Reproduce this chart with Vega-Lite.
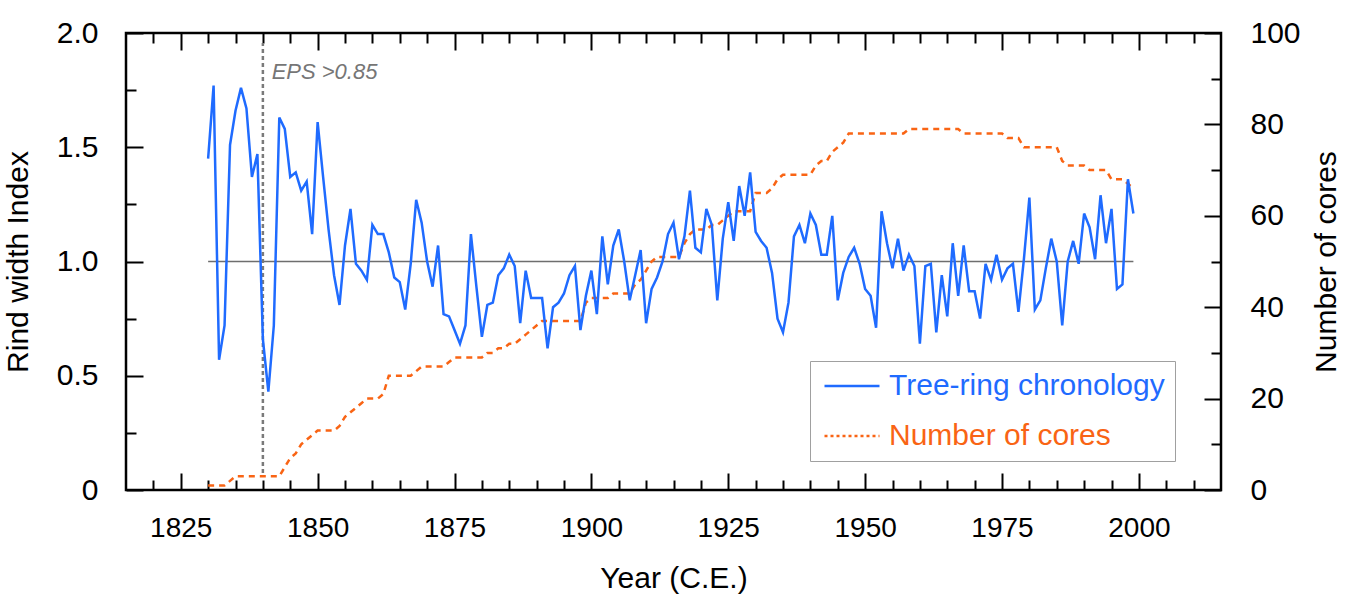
{
  "$schema": "https://vega.github.io/schema/vega-lite/v6.json",
  "width": 1095,
  "height": 457,
  "autosize": {"type": "none"},
  "padding": {"left": 126, "top": 33, "right": 128, "bottom": 109},
  "config": {
    "font": "Liberation Sans",
    "view": {"stroke": "black", "strokeWidth": 2.5},
    "axis": {
      "domain": false,
      "grid": false,
      "tickColor": "black",
      "tickWidth": 2,
      "labelFontSize": 30,
      "titleFontSize": 30,
      "labelColor": "black",
      "titleColor": "black",
      "titleFontWeight": "normal",
      "labelFlush": false,
      "labelOverlap": false
    }
  },
  "datasets": {
    "chron": [
      {"year": 1830, "index": 1.45}, {"year": 1831, "index": 1.77}, {"year": 1832, "index": 0.57}, {"year": 1833, "index": 0.72},
      {"year": 1834, "index": 1.51}, {"year": 1835, "index": 1.66}, {"year": 1836, "index": 1.76}, {"year": 1837, "index": 1.67},
      {"year": 1838, "index": 1.37}, {"year": 1839, "index": 1.47}, {"year": 1840, "index": 0.66}, {"year": 1841, "index": 0.43},
      {"year": 1842, "index": 0.72}, {"year": 1843, "index": 1.63}, {"year": 1844, "index": 1.58}, {"year": 1845, "index": 1.37},
      {"year": 1846, "index": 1.39}, {"year": 1847, "index": 1.31}, {"year": 1848, "index": 1.35}, {"year": 1849, "index": 1.12},
      {"year": 1850, "index": 1.61}, {"year": 1851, "index": 1.37}, {"year": 1852, "index": 1.14}, {"year": 1853, "index": 0.94},
      {"year": 1854, "index": 0.81}, {"year": 1855, "index": 1.07}, {"year": 1856, "index": 1.23}, {"year": 1857, "index": 0.99},
      {"year": 1858, "index": 0.96}, {"year": 1859, "index": 0.92}, {"year": 1860, "index": 1.16}, {"year": 1861, "index": 1.12},
      {"year": 1862, "index": 1.12}, {"year": 1863, "index": 1.04}, {"year": 1864, "index": 0.93}, {"year": 1865, "index": 0.91},
      {"year": 1866, "index": 0.79}, {"year": 1867, "index": 0.99}, {"year": 1868, "index": 1.27}, {"year": 1869, "index": 1.17},
      {"year": 1870, "index": 1.0}, {"year": 1871, "index": 0.89}, {"year": 1872, "index": 1.07}, {"year": 1873, "index": 0.77},
      {"year": 1874, "index": 0.76}, {"year": 1875, "index": 0.7}, {"year": 1876, "index": 0.64}, {"year": 1877, "index": 0.72},
      {"year": 1878, "index": 1.12}, {"year": 1879, "index": 0.89}, {"year": 1880, "index": 0.67}, {"year": 1881, "index": 0.81},
      {"year": 1882, "index": 0.82}, {"year": 1883, "index": 0.94}, {"year": 1884, "index": 0.97}, {"year": 1885, "index": 1.03},
      {"year": 1886, "index": 0.98}, {"year": 1887, "index": 0.73}, {"year": 1888, "index": 0.96}, {"year": 1889, "index": 0.84},
      {"year": 1890, "index": 0.84}, {"year": 1891, "index": 0.84}, {"year": 1892, "index": 0.62}, {"year": 1893, "index": 0.8},
      {"year": 1894, "index": 0.82}, {"year": 1895, "index": 0.86}, {"year": 1896, "index": 0.94}, {"year": 1897, "index": 0.98},
      {"year": 1898, "index": 0.7}, {"year": 1899, "index": 0.85}, {"year": 1900, "index": 0.96}, {"year": 1901, "index": 0.77},
      {"year": 1902, "index": 1.11}, {"year": 1903, "index": 0.9}, {"year": 1904, "index": 1.07}, {"year": 1905, "index": 1.14},
      {"year": 1906, "index": 1.0}, {"year": 1907, "index": 0.83}, {"year": 1908, "index": 0.94}, {"year": 1909, "index": 1.05},
      {"year": 1910, "index": 0.73}, {"year": 1911, "index": 0.88}, {"year": 1912, "index": 0.93}, {"year": 1913, "index": 1.0},
      {"year": 1914, "index": 1.12}, {"year": 1915, "index": 1.17}, {"year": 1916, "index": 1.01}, {"year": 1917, "index": 1.11},
      {"year": 1918, "index": 1.31}, {"year": 1919, "index": 1.06}, {"year": 1920, "index": 1.04}, {"year": 1921, "index": 1.23},
      {"year": 1922, "index": 1.16}, {"year": 1923, "index": 0.83}, {"year": 1924, "index": 1.1}, {"year": 1925, "index": 1.26},
      {"year": 1926, "index": 1.09}, {"year": 1927, "index": 1.33}, {"year": 1928, "index": 1.2}, {"year": 1929, "index": 1.39},
      {"year": 1930, "index": 1.13}, {"year": 1931, "index": 1.09}, {"year": 1932, "index": 1.06}, {"year": 1933, "index": 0.95},
      {"year": 1934, "index": 0.75}, {"year": 1935, "index": 0.69}, {"year": 1936, "index": 0.82}, {"year": 1937, "index": 1.11},
      {"year": 1938, "index": 1.16}, {"year": 1939, "index": 1.08}, {"year": 1940, "index": 1.21}, {"year": 1941, "index": 1.16},
      {"year": 1942, "index": 1.03}, {"year": 1943, "index": 1.03}, {"year": 1944, "index": 1.2}, {"year": 1945, "index": 0.83},
      {"year": 1946, "index": 0.95}, {"year": 1947, "index": 1.02}, {"year": 1948, "index": 1.06}, {"year": 1949, "index": 0.99},
      {"year": 1950, "index": 0.88}, {"year": 1951, "index": 0.85}, {"year": 1952, "index": 0.71}, {"year": 1953, "index": 1.22},
      {"year": 1954, "index": 1.08}, {"year": 1955, "index": 0.97}, {"year": 1956, "index": 1.1}, {"year": 1957, "index": 0.96},
      {"year": 1958, "index": 1.03}, {"year": 1959, "index": 0.98}, {"year": 1960, "index": 0.64}, {"year": 1961, "index": 0.98},
      {"year": 1962, "index": 0.99}, {"year": 1963, "index": 0.69}, {"year": 1964, "index": 0.94}, {"year": 1965, "index": 0.76},
      {"year": 1966, "index": 1.08}, {"year": 1967, "index": 0.85}, {"year": 1968, "index": 1.07}, {"year": 1969, "index": 0.87},
      {"year": 1970, "index": 0.87}, {"year": 1971, "index": 0.75}, {"year": 1972, "index": 0.99}, {"year": 1973, "index": 0.92},
      {"year": 1974, "index": 1.03}, {"year": 1975, "index": 0.92}, {"year": 1976, "index": 0.97}, {"year": 1977, "index": 0.99},
      {"year": 1978, "index": 0.78}, {"year": 1979, "index": 1.01}, {"year": 1980, "index": 1.28}, {"year": 1981, "index": 0.79},
      {"year": 1982, "index": 0.83}, {"year": 1983, "index": 0.97}, {"year": 1984, "index": 1.1}, {"year": 1985, "index": 1.0},
      {"year": 1986, "index": 0.72}, {"year": 1987, "index": 1.0}, {"year": 1988, "index": 1.09}, {"year": 1989, "index": 0.99},
      {"year": 1990, "index": 1.21}, {"year": 1991, "index": 1.15}, {"year": 1992, "index": 1.01}, {"year": 1993, "index": 1.29},
      {"year": 1994, "index": 1.08}, {"year": 1995, "index": 1.23}, {"year": 1996, "index": 0.88}, {"year": 1997, "index": 0.9},
      {"year": 1998, "index": 1.36}, {"year": 1999, "index": 1.21}
    ],
    "cores": [
      {"year": 1830, "cores": 1}, {"year": 1831, "cores": 1}, {"year": 1832, "cores": 1}, {"year": 1833, "cores": 1},
      {"year": 1834, "cores": 2}, {"year": 1835, "cores": 3}, {"year": 1836, "cores": 3}, {"year": 1837, "cores": 3},
      {"year": 1838, "cores": 3}, {"year": 1839, "cores": 3}, {"year": 1840, "cores": 3}, {"year": 1841, "cores": 3},
      {"year": 1842, "cores": 3}, {"year": 1843, "cores": 3}, {"year": 1844, "cores": 5}, {"year": 1845, "cores": 7},
      {"year": 1846, "cores": 8}, {"year": 1847, "cores": 10}, {"year": 1848, "cores": 11}, {"year": 1849, "cores": 12},
      {"year": 1850, "cores": 13}, {"year": 1851, "cores": 13}, {"year": 1852, "cores": 13}, {"year": 1853, "cores": 13},
      {"year": 1854, "cores": 14}, {"year": 1855, "cores": 16}, {"year": 1856, "cores": 17}, {"year": 1857, "cores": 18},
      {"year": 1858, "cores": 19}, {"year": 1859, "cores": 20}, {"year": 1860, "cores": 20}, {"year": 1861, "cores": 20},
      {"year": 1862, "cores": 21}, {"year": 1863, "cores": 25}, {"year": 1864, "cores": 25}, {"year": 1865, "cores": 25},
      {"year": 1866, "cores": 25}, {"year": 1867, "cores": 25}, {"year": 1868, "cores": 26}, {"year": 1869, "cores": 27},
      {"year": 1870, "cores": 27}, {"year": 1871, "cores": 27}, {"year": 1872, "cores": 27}, {"year": 1873, "cores": 27},
      {"year": 1874, "cores": 28}, {"year": 1875, "cores": 29}, {"year": 1876, "cores": 29}, {"year": 1877, "cores": 29},
      {"year": 1878, "cores": 29}, {"year": 1879, "cores": 29}, {"year": 1880, "cores": 29}, {"year": 1881, "cores": 30},
      {"year": 1882, "cores": 30}, {"year": 1883, "cores": 31}, {"year": 1884, "cores": 31}, {"year": 1885, "cores": 32},
      {"year": 1886, "cores": 32}, {"year": 1887, "cores": 33}, {"year": 1888, "cores": 34}, {"year": 1889, "cores": 35},
      {"year": 1890, "cores": 36}, {"year": 1891, "cores": 37}, {"year": 1892, "cores": 37}, {"year": 1893, "cores": 37},
      {"year": 1894, "cores": 37}, {"year": 1895, "cores": 37}, {"year": 1896, "cores": 37}, {"year": 1897, "cores": 37},
      {"year": 1898, "cores": 37}, {"year": 1899, "cores": 41}, {"year": 1900, "cores": 42}, {"year": 1901, "cores": 42},
      {"year": 1902, "cores": 42}, {"year": 1903, "cores": 42}, {"year": 1904, "cores": 43}, {"year": 1905, "cores": 43},
      {"year": 1906, "cores": 43}, {"year": 1907, "cores": 43}, {"year": 1908, "cores": 45}, {"year": 1909, "cores": 46},
      {"year": 1910, "cores": 48}, {"year": 1911, "cores": 50}, {"year": 1912, "cores": 51}, {"year": 1913, "cores": 51},
      {"year": 1914, "cores": 51}, {"year": 1915, "cores": 51}, {"year": 1916, "cores": 51}, {"year": 1917, "cores": 54},
      {"year": 1918, "cores": 56}, {"year": 1919, "cores": 57}, {"year": 1920, "cores": 57}, {"year": 1921, "cores": 57},
      {"year": 1922, "cores": 58}, {"year": 1923, "cores": 58}, {"year": 1924, "cores": 59}, {"year": 1925, "cores": 60},
      {"year": 1926, "cores": 61}, {"year": 1927, "cores": 61}, {"year": 1928, "cores": 61}, {"year": 1929, "cores": 61},
      {"year": 1930, "cores": 65}, {"year": 1931, "cores": 65}, {"year": 1932, "cores": 65}, {"year": 1933, "cores": 66},
      {"year": 1934, "cores": 68}, {"year": 1935, "cores": 69}, {"year": 1936, "cores": 69}, {"year": 1937, "cores": 69},
      {"year": 1938, "cores": 69}, {"year": 1939, "cores": 69}, {"year": 1940, "cores": 69}, {"year": 1941, "cores": 71},
      {"year": 1942, "cores": 72}, {"year": 1943, "cores": 72}, {"year": 1944, "cores": 74}, {"year": 1945, "cores": 75},
      {"year": 1946, "cores": 76}, {"year": 1947, "cores": 78}, {"year": 1948, "cores": 78}, {"year": 1949, "cores": 78},
      {"year": 1950, "cores": 78}, {"year": 1951, "cores": 78}, {"year": 1952, "cores": 78}, {"year": 1953, "cores": 78},
      {"year": 1954, "cores": 78}, {"year": 1955, "cores": 78}, {"year": 1956, "cores": 78}, {"year": 1957, "cores": 78},
      {"year": 1958, "cores": 79}, {"year": 1959, "cores": 79}, {"year": 1960, "cores": 79}, {"year": 1961, "cores": 79},
      {"year": 1962, "cores": 79}, {"year": 1963, "cores": 79}, {"year": 1964, "cores": 79}, {"year": 1965, "cores": 79},
      {"year": 1966, "cores": 79}, {"year": 1967, "cores": 79}, {"year": 1968, "cores": 78}, {"year": 1969, "cores": 78},
      {"year": 1970, "cores": 78}, {"year": 1971, "cores": 78}, {"year": 1972, "cores": 78}, {"year": 1973, "cores": 78},
      {"year": 1974, "cores": 78}, {"year": 1975, "cores": 78}, {"year": 1976, "cores": 77}, {"year": 1977, "cores": 77},
      {"year": 1978, "cores": 77}, {"year": 1979, "cores": 75}, {"year": 1980, "cores": 75}, {"year": 1981, "cores": 75},
      {"year": 1982, "cores": 75}, {"year": 1983, "cores": 75}, {"year": 1984, "cores": 75}, {"year": 1985, "cores": 75},
      {"year": 1986, "cores": 72}, {"year": 1987, "cores": 71}, {"year": 1988, "cores": 71}, {"year": 1989, "cores": 71},
      {"year": 1990, "cores": 71}, {"year": 1991, "cores": 70}, {"year": 1992, "cores": 70}, {"year": 1993, "cores": 70},
      {"year": 1994, "cores": 70}, {"year": 1995, "cores": 68}, {"year": 1996, "cores": 68}, {"year": 1997, "cores": 68},
      {"year": 1998, "cores": 67}, {"year": 1999, "cores": 66}
    ]
  },
  "resolve": {
    "scale": {"y": "independent"},
    "axis": {"x": "independent", "y": "independent"}
  },
  "layer": [
    {
      "data": {"values": [{}]},
      "mark": {"type": "rule", "color": "#6e6e6e", "strokeWidth": 1.5},
      "encoding": {
        "x": {"datum": 1830, "type": "quantitative", "scale": {"domain": [1815, 2015], "nice": false, "zero": false}, "axis": null},
        "x2": {"datum": 1999},
        "y": {"datum": 1, "type": "quantitative", "scale": {"domain": [0, 2], "nice": false}, "axis": null}
      }
    },
    {
      "data": {"values": [{}]},
      "mark": {"type": "rule", "color": "#7a7a7a", "strokeWidth": 2.5, "strokeDash": [4, 3]},
      "encoding": {
        "x": {"datum": 1840, "type": "quantitative", "scale": {"domain": [1815, 2015], "nice": false, "zero": false}, "axis": null},
        "y": {"datum": 0.074, "type": "quantitative", "scale": {"domain": [0, 2], "nice": false}, "axis": null},
        "y2": {"datum": 1.956}
      }
    },
    {
      "data": {"values": [{}]},
      "mark": {"type": "text", "text": "EPS >0.85", "fontStyle": "italic", "fontSize": 22, "color": "#767676", "align": "left", "baseline": "middle"},
      "encoding": {
        "x": {"datum": 1841.6, "type": "quantitative", "scale": {"domain": [1815, 2015], "nice": false, "zero": false}, "axis": null},
        "y": {"datum": 1.83, "type": "quantitative", "scale": {"domain": [0, 2], "nice": false}, "axis": null}
      }
    },
    {
      "data": {"values": [{}]},
      "mark": {"type": "point", "opacity": 0},
      "encoding": {
        "x": {"datum": 1900, "type": "quantitative", "scale": {"domain": [1815, 2015], "nice": false, "zero": false},
              "axis": {"orient": "bottom", "values": [1820, 1830, 1835, 1840, 1845, 1855, 1860, 1865, 1870, 1880, 1885, 1890, 1895, 1905, 1910, 1915, 1920, 1930, 1935, 1940, 1945, 1955, 1960, 1965, 1970, 1980, 1985, 1990, 1995, 2005, 2010], "tickSize": -10, "labels": false, "title": null}},
        "y": {"datum": 1, "type": "quantitative", "scale": {"domain": [0, 2], "nice": false},
              "axis": {"orient": "left", "values": [0.25, 0.75, 1.25, 1.75], "tickSize": -10, "labels": false, "title": null}}
      }
    },
    {
      "data": {"values": [{}]},
      "mark": {"type": "point", "opacity": 0},
      "encoding": {
        "x": {"datum": 1900, "type": "quantitative", "scale": {"domain": [1815, 2015], "nice": false, "zero": false},
              "axis": {"orient": "top", "values": [1825, 1850, 1875, 1900, 1925, 1950, 1975, 2000], "tickSize": -17, "labels": false, "title": null}},
        "y": {"datum": 50, "type": "quantitative", "scale": {"domain": [0, 100], "nice": false},
              "axis": {"orient": "right", "values": [10, 30, 50, 70, 90], "tickSize": -10, "labels": false, "title": null}}
      }
    },
    {
      "data": {"values": [{}]},
      "mark": {"type": "point", "opacity": 0},
      "encoding": {
        "x": {"datum": 1900, "type": "quantitative", "scale": {"domain": [1815, 2015], "nice": false, "zero": false},
              "axis": {"orient": "top", "values": [1820, 1830, 1835, 1840, 1845, 1855, 1860, 1865, 1870, 1880, 1885, 1890, 1895, 1905, 1910, 1915, 1920, 1930, 1935, 1940, 1945, 1955, 1960, 1965, 1970, 1980, 1985, 1990, 1995, 2005, 2010], "tickSize": -10, "labels": false, "title": null}},
        "y": {"datum": 1, "type": "quantitative", "scale": {"domain": [0, 2], "nice": false}, "axis": null}
      }
    },
    {
      "data": {"name": "cores"},
      "mark": {"type": "line", "strokeWidth": 2.5, "strokeDash": [6, 5]},
      "encoding": {
        "x": {"field": "year", "type": "quantitative", "scale": {"domain": [1815, 2015], "nice": false, "zero": false}, "axis": null},
        "y": {"field": "cores", "type": "quantitative", "scale": {"domain": [0, 100], "nice": false},
              "axis": {"orient": "right", "values": [0, 20, 40, 60, 80, 100], "tickSize": -17, "labelPadding": 46, "labelAlign": "left", "title": "Number of cores", "titleAngle": -90, "titleBaseline": "top", "titlePadding": 11}},
        "color": {"datum": "Number of cores", "type": "nominal",
                  "scale": {"domain": ["Tree-ring chronology", "Number of cores"], "range": ["#1f6bff", "#f96414"]},
                  "legend": {"orient": "none", "legendX": 684, "legendY": 328, "title": null, "padding": 10, "strokeColor": "#a0a0a0", "fillColor": "white", "symbolType": "M-2.75,0L2.75,0", "symbolSize": 400, "symbolOffset": 17, "symbolStrokeWidth": 2.5, "labelFontSize": 30, "labelOffset": 22, "labelLimit": 0, "rowPadding": 20,
                             "encode": {"labels": {"update": {"fill": {"scale": "color", "field": "value"}}}, "symbols": {"update": {"strokeDash": {"signal": "datum.value === 'Number of cores' ? [3, 3] : [1, 0]"}}}}}}
      }
    },
    {
      "data": {"name": "chron"},
      "mark": {"type": "line", "strokeWidth": 2.5},
      "encoding": {
        "x": {"field": "year", "type": "quantitative", "scale": {"domain": [1815, 2015], "nice": false, "zero": false},
              "axis": {"orient": "bottom", "values": [1825, 1850, 1875, 1900, 1925, 1950, 1975, 2000], "tickSize": -17, "labelPadding": 41, "labelFontSize": 28, "format": "d", "title": "Year (C.E.)", "titlePadding": 21}},
        "y": {"field": "index", "type": "quantitative", "scale": {"domain": [0, 2], "nice": false},
              "axis": {"orient": "left", "values": [0, 0.5, 1, 1.5, 2], "tickSize": -17, "labelPadding": 45, "labelExpr": "datum.value == 0 ? '0' : format(datum.value, '.1f')", "title": "Rind width Index", "titlePadding": 23}},
        "color": {"datum": "Tree-ring chronology", "type": "nominal",
                  "scale": {"domain": ["Tree-ring chronology", "Number of cores"], "range": ["#1f6bff", "#f96414"]},
                  "legend": {"orient": "none", "legendX": 684, "legendY": 328, "title": null, "padding": 10, "strokeColor": "#a0a0a0", "fillColor": "white", "symbolType": "M-2.75,0L2.75,0", "symbolSize": 400, "symbolOffset": 17, "symbolStrokeWidth": 2.5, "labelFontSize": 30, "labelOffset": 22, "labelLimit": 0, "rowPadding": 20,
                             "encode": {"labels": {"update": {"fill": {"scale": "color", "field": "value"}}}, "symbols": {"update": {"strokeDash": {"signal": "datum.value === 'Number of cores' ? [3, 3] : [1, 0]"}}}}}}
      }
    }
  ]
}
